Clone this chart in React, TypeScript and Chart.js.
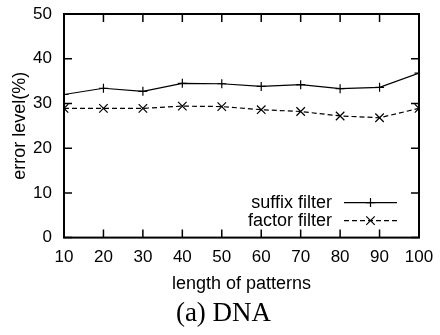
import React, { useEffect, useRef } from 'react';
import { Chart, registerables } from 'chart.js';
import { drawPoint } from 'chart.js/helpers';

Chart.register(...registerables);

const patternLengths = [10, 20, 30, 40, 50, 60, 70, 80, 90, 100];
const suffixFilter = [32.0, 33.4, 32.7, 34.5, 34.4, 33.8, 34.2, 33.3, 33.6, 36.8];
const factorFilter = [28.9, 28.9, 28.9, 29.4, 29.3, 28.6, 28.2, 27.2, 26.8, 28.9];
const seriesLabels = ['suffix filter', 'factor filter'];
const xTitle = 'length of patterns';
const yTitle = 'error level(%)';
const caption = '(a) DNA';

const SANS = "'Liberation Sans', Arial, sans-serif";
const SERIF = "'Liberation Serif', 'Times New Roman', serif";

const frameTicksLegend = {
  id: 'frameTicksLegend',
  afterDraw(chart: any) {
    const { ctx, chartArea: a, scales } = chart;
    const x = scales.x;
    const y = scales.y;
    ctx.save();
    ctx.strokeStyle = '#000';
    ctx.setLineDash([]);
    // inward ticks on all four sides
    ctx.lineWidth = 1.5;
    ctx.beginPath();
    x.ticks.forEach((t: any) => {
      const px = x.getPixelForValue(t.value);
      ctx.moveTo(px, a.bottom);
      ctx.lineTo(px, a.bottom - 8);
      ctx.moveTo(px, a.top);
      ctx.lineTo(px, a.top + 8);
    });
    y.ticks.forEach((t: any) => {
      const py = y.getPixelForValue(t.value);
      ctx.moveTo(a.left, py);
      ctx.lineTo(a.left + 8, py);
      ctx.moveTo(a.right, py);
      ctx.lineTo(a.right - 8, py);
    });
    ctx.stroke();
    // frame
    ctx.lineWidth = 2;
    ctx.strokeRect(a.left, a.top, a.right - a.left, a.bottom - a.top);

    // legend
    const rows = [a.bottom - 35, a.bottom - 17];
    chart.data.datasets.forEach((ds: any, i: number) => {
      const ry = rows[i];
      ctx.fillStyle = '#000';
      ctx.font = `18px ${SANS}`;
      ctx.textAlign = 'right';
      ctx.textBaseline = 'middle';
      ctx.fillText(ds.label, a.right - 87, ry);
      ctx.lineWidth = ds.borderWidth;
      ctx.setLineDash(ds.borderDash || []);
      ctx.beginPath();
      ctx.moveTo(a.right - 75, ry);
      ctx.lineTo(a.right - 22, ry);
      ctx.stroke();
      ctx.setLineDash([]);
      ctx.lineWidth = ds.pointBorderWidth;
      drawPoint(ctx, { pointStyle: ds.pointStyle, radius: ds.pointRadius, rotation: 0, borderWidth: ds.pointBorderWidth }, a.right - 48.5, ry);
    });
    ctx.restore();
  },
};

export default function App() {
  const ref = useRef<HTMLCanvasElement | null>(null);
  useEffect(() => {
    if (!ref.current) return;
    const chart = new Chart(ref.current, {
      type: 'line',
      data: {
        datasets: [
          {
            label: seriesLabels[0],
            data: patternLengths.map((v, i) => ({ x: v, y: suffixFilter[i] })),
            borderColor: '#000',
            backgroundColor: '#000',
            borderWidth: 1.2,
            pointStyle: 'cross',
            pointRadius: 4.5,
            pointBorderWidth: 1.2,
            pointBorderColor: '#000',
            fill: false,
            tension: 0,
          },
          {
            label: seriesLabels[1],
            data: patternLengths.map((v, i) => ({ x: v, y: factorFilter[i] })),
            borderColor: '#000',
            backgroundColor: '#000',
            borderWidth: 1.2,
            borderDash: [5, 3],
            pointStyle: 'crossRot',
            pointRadius: 6,
            pointBorderWidth: 1.2,
            pointBorderColor: '#000',
            fill: false,
            tension: 0,
          },
        ],
      },
      options: {
        responsive: false,
        animation: false,
        layout: { padding: { left: 7, right: 0, top: 14, bottom: 0 } },
        plugins: {
          legend: { display: false },
          tooltip: { enabled: false },
          title: {
            display: true,
            position: 'bottom',
            text: caption,
            color: '#000',
            font: { family: SERIF, size: 27, weight: 'normal', lineHeight: 1.2 },
            padding: { top: 2, bottom: 5 },
          },
        },
        scales: {
          x: {
            type: 'linear',
            min: 10,
            max: 100,
            grid: { display: false, drawTicks: false },
            border: { display: false },
            ticks: { stepSize: 10, color: '#000', padding: 10, font: { family: SANS, size: 17 } },
            title: {
              display: true,
              text: xTitle,
              color: '#000',
              font: { family: SANS, size: 18 },
              padding: { top: 0, bottom: 0.5 },
            },
            afterFit: (s: any) => {
              s.height = 58;
              s.paddingLeft = 0;
              s.paddingRight = 21;
            },
          },
          y: {
            type: 'linear',
            min: 0,
            max: 50,
            grid: { display: false, drawTicks: false },
            border: { display: false },
            ticks: { stepSize: 10, color: '#000', padding: 12, font: { family: SANS, size: 17 } },
            title: {
              display: true,
              text: yTitle,
              color: '#000',
              font: { family: SANS, size: 18 },
              padding: { top: 2, bottom: 0 },
            },
            afterFit: (s: any) => {
              s.width = 57;
              s.paddingTop = 0;
              s.paddingBottom = 0;
            },
          },
        },
      },
      plugins: [frameTicksLegend],
    });
    return () => chart.destroy();
  }, []);
  return (
    <div style={{ position: 'fixed', left: 0, top: 0, width: 440, height: 335, background: '#fff' }}>
      <canvas ref={ref} width={440} height={335} style={{ display: 'block' }} />
    </div>
  );
}
